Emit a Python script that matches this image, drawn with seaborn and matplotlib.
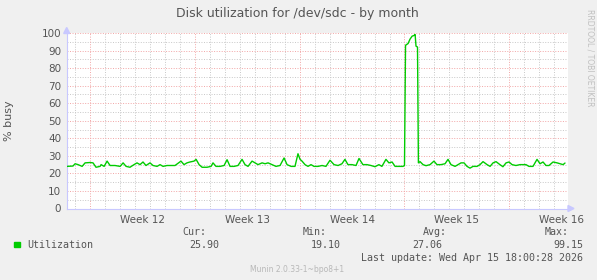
import matplotlib
matplotlib.use("Agg")
import matplotlib.pyplot as plt
from matplotlib.patches import Polygon
import seaborn as sns
import pandas as pd

# ---- data (days since Monday of Week 12, % busy) ----
days = [-1.56, -1.16, -1.02, -0.82, -0.55, -0.35, -0.02, 0.18, 0.38, 0.65, 0.72, 0.92,
        1.12, 1.32, 1.65, 1.99, 2.19, 2.39, 2.65, 2.92, 3.12, 3.32, 3.52, 3.72, 3.99,
        4.19, 4.46, 4.66, 4.86, 5.13, 5.39, 5.66, 6.06, 6.26, 6.46, 6.66, 6.93, 7.07,
        7.27, 7.47, 7.80, 8.07, 8.20, 8.40, 8.67, 8.94, 9.14, 9.34, 9.61, 9.87, 10.14,
        10.34, 10.54, 10.81, 11.01, 11.21, 11.48, 11.68, 11.88, 12.15, 12.41, 12.68,
        12.95, 13.15, 13.42, 13.68, 13.88, 14.02, 14.15, 14.35, 14.55, 14.75, 14.95,
        15.22, 15.49, 15.75, 16.02, 16.29, 16.56, 16.82, 17.02, 17.22, 17.49, 17.76,
        17.96, 18.22, 18.49, 18.76, 19.03, 19.29, 19.49, 19.76, 19.96, 20.17, 20.37,
        20.63, 20.90, 21.00, 21.07, 21.17, 21.24, 21.37, 21.51, 21.64, 21.71, 21.77,
        21.87, 21.93, 22.04, 22.24, 22.44, 22.71, 22.97, 23.17, 23.44, 23.71, 23.91,
        24.11, 24.38, 24.58, 24.78, 24.98, 25.18, 25.38, 25.58, 25.85, 26.05, 26.25,
        26.52, 26.72, 26.92, 27.12, 27.38, 27.58, 27.79, 27.99, 28.19, 28.45, 28.72,
        28.99, 29.12, 29.32, 29.59, 29.86, 30.06, 30.26, 30.46, 30.66, 30.93, 31.20,
        31.40, 31.60, 31.73]
busy = [24.0, 24.2, 25.5, 25.0, 24.0, 26.0, 26.2, 26.0, 23.5, 24.0, 25.0, 24.0,
        27.0, 24.5, 24.5, 24.0, 26.0, 24.0, 23.5, 25.0, 26.0, 25.0, 26.5, 24.5, 26.0,
        24.5, 24.0, 25.0, 24.0, 24.5, 24.5, 24.5, 27.0, 25.0, 26.0, 26.5, 27.0, 28.0,
        25.0, 23.5, 23.5, 24.0, 26.0, 24.0, 24.0, 24.5, 27.8, 24.0, 24.0, 24.5, 28.0,
        25.0, 24.0, 27.0, 26.0, 25.0, 26.0, 25.5, 26.0, 25.0, 24.0, 24.5,
        28.8, 25.0, 24.0, 24.0, 31.2, 28.0, 27.0, 25.0, 24.0, 25.0, 24.0,
        24.0, 24.5, 24.0, 27.5, 25.0, 24.5, 25.5, 28.0, 25.0, 25.0, 24.5,
        28.5, 25.0, 25.0, 24.5, 23.8, 25.0, 24.0, 28.0, 26.0, 26.5, 24.0,
        24.0, 24.0, 24.5, 93.0, 93.6, 94.0, 96.5, 98.2, 98.6, 99.15, 92.5,
        92.0, 26.0, 26.7, 25.0, 24.4, 25.0, 27.0, 25.0, 25.0, 25.5, 28.0,
        25.0, 24.0, 25.0, 26.0, 26.0, 24.0, 23.0, 24.0, 24.0, 25.0, 26.7,
        25.0, 24.0, 26.0, 26.7, 25.0, 23.8, 26.0, 26.5, 25.0, 24.5, 25.0,
        25.0, 25.0, 24.0, 24.0, 28.0, 25.5, 26.5, 24.5, 24.5, 26.5, 26.0,
        25.5, 25.0, 25.9]
week_starts = [0, 7, 14, 21, 28]
week_label_pos = [3.5, 10.5, 17.5, 24.5, 31.5]
week_labels = ["Week 12", "Week 13", "Week 14", "Week 15", "Week 16"]
y_ticks = [0, 10, 20, 30, 40, 50, 60, 70, 80, 90, 100]
stat_names = ["Cur:", "Min:", "Avg:", "Max:"]
stat_values = ["25.90", "19.10", "27.06", "99.15"]

W, H = 597, 280
sns.set_theme(style="white")
plt.rcParams['font.family'] = ['DejaVu Sans']

fig = plt.figure(figsize=(W / 100, H / 100), dpi=100, facecolor='#f0f0f0')
x0, x1, ytop, ybot = 66.7, 568.0, 33.0, 208.5
ax = fig.add_axes([x0 / W, 1 - ybot / H, (x1 - x0) / W, (ybot - ytop) / H])
ax.set_facecolor('white')

df = pd.DataFrame({'day': days, 'busy': busy})
sns.lineplot(data=df, x='day', y='busy', ax=ax, color='#00cc00', lw=1.0, zorder=5)

ax.set_xlim(-1.58, 31.93)
ax.set_ylim(0, 100)

# grid
minor_color = '#c8c8c8'
major_color = '#f2a6a6'
dot = (0, (1, 1.6))
for v in range(5, 100, 10):
    ax.axhline(v, color=minor_color, lw=0.7, ls=dot, zorder=1)
for v in y_ticks[1:]:
    ax.axhline(v, color=major_color, lw=0.7, ls=dot, zorder=2)
for d in range(-1, 32):
    if d not in week_starts:
        ax.axvline(d, color=minor_color, lw=0.7, ls=dot, zorder=1)
for d in week_starts:
    ax.axvline(d, color=major_color, lw=0.7, ls=dot, zorder=2)

ax.set_yticks(y_ticks)
ax.set_yticklabels([str(v) for v in y_ticks], fontsize=7.5, color='#555555')
ax.set_xticks(week_starts)
ax.set_xticklabels([])
ax.tick_params(axis='y', length=2, width=0.7, color='#f2a6a6', pad=2)
ax.tick_params(axis='x', length=2, width=0.7, color='#f2a6a6', pad=1)
for d, lab in zip(week_label_pos, week_labels):
    ax.text(d, -0.035, lab, transform=ax.get_xaxis_transform(), ha='center', va='top',
            fontsize=7.5, color='#555555')

for s in ['top', 'right']:
    ax.spines[s].set_visible(False)
for s in ['left', 'bottom']:
    ax.spines[s].set_color('#c8c8ff')
    ax.spines[s].set_linewidth(0.8)


def px(xp, yp):
    return (xp / W, 1 - yp / H)


# axis arrowheads (decoration)
fig.patches.append(Polygon([px(63.7, 33.5), px(69.7, 33.5), px(66.7, 27.5)], closed=True,
                           transform=fig.transFigure, color='#c8c8ff'))
fig.patches.append(Polygon([px(568, 205.5), px(568, 211.5), px(574, 208.5)], closed=True,
                           transform=fig.transFigure, color='#c8c8ff'))

ax.set_ylabel('% busy', fontsize=8, color='#555555', labelpad=6)
ax.yaxis.set_label_coords(-(x0 - 14) / (x1 - x0), 0.5)
ax.set_xlabel('')


def ft(xp, yp, s, **kw):
    fig.text(xp / W, 1 - yp / H, s, **kw)


ft(297, 14, "Disk utilization for /dev/sdc - by month", ha='center', va='center',
   fontsize=9, color='#555555')
ft(590, 58, "RRDTOOL / TOBI OETIKER", ha='center', va='center', rotation=270,
   fontsize=5.5, color='#c0c0c0')

mono = dict(family='DejaVu Sans Mono', fontsize=7.2, color='#555555', va='center')
fig.patches.append(plt.Rectangle(px(14, 247), 5.5 / W, 5.5 / H,
                                 transform=fig.transFigure, color='#00cc00'))
ft(27, 245, "Utilization", ha='left', **mono)
name_right = [206, 327, 447, 569]
val_right = [219, 341, 442, 583]
for nr, vr, n, v in zip(name_right, val_right, stat_names, stat_values):
    ft(nr, 232, n, ha='right', **mono)
    ft(vr, 245, v, ha='right', **mono)
ft(583, 258, "Last update: Wed Apr 15 18:00:28 2026", ha='right', **mono)
ft(297, 269, "Munin 2.0.33-1~bpo8+1", ha='center', va='center', fontsize=5.5,
   color='#b8b8b8')

fig.savefig('out.png', dpi=100, facecolor=fig.get_facecolor())
